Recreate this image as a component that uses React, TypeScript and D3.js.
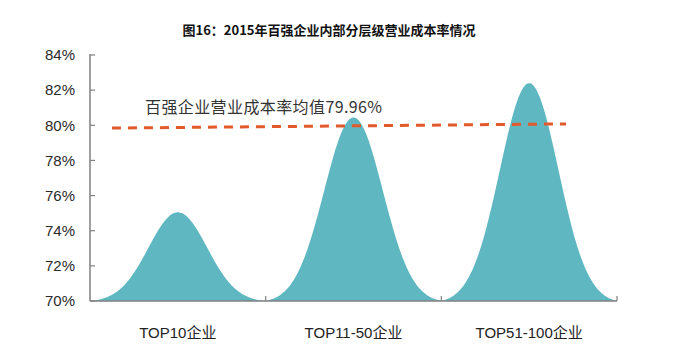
import React, { useRef, useEffect } from 'react';
import * as d3 from 'd3';

const title = '图16：2015年百强企业内部分层级营业成本率情况';
const categories = ['TOP10企业', 'TOP11-50企业', 'TOP51-100企业'];
const values = [75.05, 80.45, 82.4];
const yTicks = [70, 72, 74, 76, 78, 80, 82, 84];
const avgLabel = '百强企业营业成本率均值79.96%';
// dashed average line drawn slightly tilted, as in the source picture
const avgLine = [
  { pos: 0.125, value: 79.84 },
  { pos: 2.71, value: 80.08 },
];

const App = () => {
  const svgRef = useRef<SVGSVGElement>(null);

  useEffect(() => {
    if (!svgRef.current) return;
    const svg = d3.select(svgRef.current);
    svg.selectAll('*').remove();

    const left = 90, right = 617, top = 55, bottom = 301;

    const y = d3.scaleLinear().domain([70, 84]).range([bottom, top]);
    const x = d3.scaleLinear().domain([0, categories.length]).range([left, right]);
    const band = d3.scaleBand().domain(categories).range([left, right]).padding(0);

    svg.append('rect').attr('width', 679).attr('height', 359).attr('fill', '#fff');

    svg.append('text')
      .attr('x', 329).attr('y', 35)
      .attr('text-anchor', 'middle')
      .attr('font-family', '"Noto Sans CJK SC", sans-serif')
      .attr('font-weight', 'bold')
      .attr('font-size', 13)
      .attr('fill', '#111')
      .text(title);

    // bell shaped marks
    const area = d3.area<[number, number]>()
      .x(d => d[0])
      .y0(bottom)
      .y1(d => d[1])
      .curve(d3.curveBasis);

    categories.forEach((c, i) => {
      const x0 = band(c)!;
      const w = band.bandwidth();
      const cx = x0 + w / 2;
      const sigma = w / 6;
      const edge = Math.exp(-4.5);
      const pts: [number, number][] = d3.range(0, 121).map(k => {
        const px = x0 + (w * k) / 120;
        const g = (Math.exp(-((px - cx) ** 2) / (2 * sigma * sigma)) - edge) / (1 - edge);
        return [px, y(70 + (values[i] - 70) * Math.max(0, g))];
      });
      svg.append('path')
        .attr('d', area(pts))
        .attr('fill', '#5fb8c1');
    });

    // axes
    const axisColor = '#808080';
    svg.append('line')
      .attr('x1', left).attr('x2', left).attr('y1', top - 1).attr('y2', bottom)
      .attr('stroke', axisColor).attr('stroke-width', 1.5);
    svg.append('line')
      .attr('x1', left).attr('x2', right).attr('y1', bottom).attr('y2', bottom)
      .attr('stroke', axisColor).attr('stroke-width', 1.5);

    yTicks.forEach(t => {
      svg.append('line')
        .attr('x1', left).attr('x2', left + 5).attr('y1', y(t)).attr('y2', y(t))
        .attr('stroke', axisColor).attr('stroke-width', 1.2);
      svg.append('text')
        .attr('x', 75).attr('y', y(t))
        .attr('dy', '0.35em')
        .attr('text-anchor', 'end')
        .attr('font-family', '"Liberation Sans", Arial, sans-serif')
        .attr('font-size', 15)
        .attr('fill', '#2a2a2a')
        .text(`${t}%`);
    });

    d3.range(1, categories.length + 1).forEach(k => {
      svg.append('line')
        .attr('x1', x(k)).attr('x2', x(k)).attr('y1', bottom).attr('y2', bottom - 5)
        .attr('stroke', axisColor).attr('stroke-width', 1.2);
    });

    categories.forEach(c => {
      svg.append('text')
        .attr('x', band(c)! + band.bandwidth() / 2).attr('y', 338)
        .attr('text-anchor', 'middle')
        .attr('font-family', '"Liberation Sans", "Noto Sans CJK SC", sans-serif')
        .attr('font-size', 15)
        .attr('fill', '#222')
        .text(c);
    });

    // average line
    const line = d3.line<{ pos: number; value: number }>()
      .x(d => x(d.pos))
      .y(d => y(d.value));
    svg.append('path')
      .attr('d', line(avgLine))
      .attr('fill', 'none')
      .attr('stroke', '#e05a2b')
      .attr('stroke-width', 3)
      .attr('stroke-dasharray', '9,7');

    svg.append('text')
      .attr('x', 145).attr('y', 113)
      .attr('font-family', '"Noto Sans CJK SC", sans-serif')
      .attr('font-size', 16)
      .attr('letter-spacing', 0.4)
      .attr('fill', '#333')
      .text(avgLabel);
  }, []);

  return (
    <svg ref={svgRef} width="679" height="359" style={{ position: 'absolute', left: 0, top: 0 }} />
  );
};

export default App;
